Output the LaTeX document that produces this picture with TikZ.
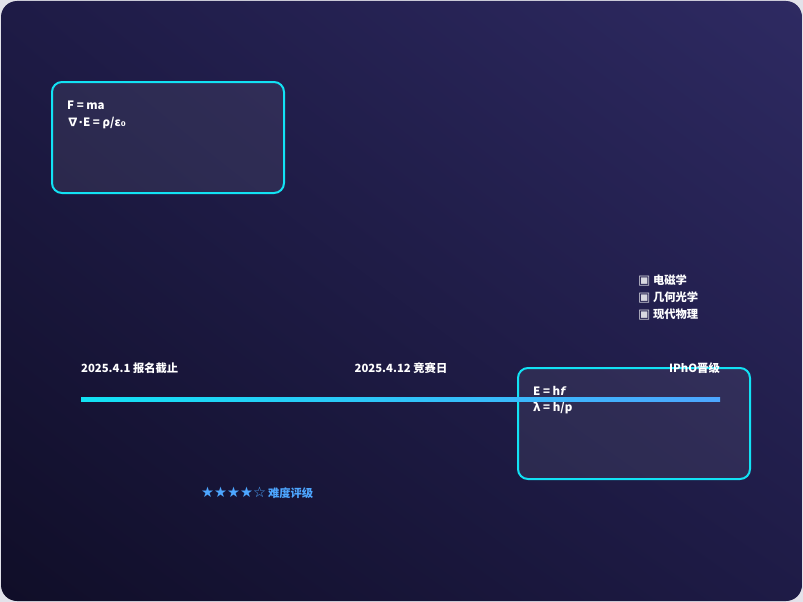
\documentclass[tikz,border=0pt]{standalone}
\usepackage{fontspec}
\setmainfont{Noto Sans CJK SC}
\newfontfamily\symfont{DejaVu Sans}
\usetikzlibrary{positioning,shadings}
\definecolor{bgdark}{HTML}{100E28}
\definecolor{bgmid}{HTML}{1E1B46}
\definecolor{bglight}{HTML}{2E2A62}
\definecolor{neon}{HTML}{12E2F4}
\definecolor{sky}{HTML}{4DA6FF}
\definecolor{rahmen}{HTML}{E2E2EA}
\definecolor{kasten}{HTML}{D8D8E0}
\tikzset{
%Define style for formula boxes
    tafel/.style={
           rectangle,
           rounded corners=10pt,
           draw=neon, line width=2pt,
           fill=white, fill opacity=0.07, text opacity=1,
           minimum width=232pt,
           minimum height=111pt},
%Define style for formulas
    formel/.style={
           text=white,
           font=\bfseries\fontsize{11.5}{16.5}\selectfont,
           align=left,
           inner sep=0pt},
%Define style for labels
    marke/.style={
           text=white,
           font=\bfseries\fontsize{11.3}{14}\selectfont,
           inner sep=0pt},
    thema/.style={
           marke,
           anchor=west}
}
\newcommand{\haken}{{\symfont\fontsize{13}{14}\selectfont\color{kasten}▣}}
\begin{document}
\begin{tikzpicture}[x=1pt, y=-1pt]
 \useasboundingbox (0,0) rectangle (803,602);
 \fill[rahmen] (0,0) rectangle (803,602);
 \shade[rounded corners=16pt, upper right=bglight, lower left=bgdark, upper left=bgmid, lower right=bgmid] (1,1) rectangle (802,601);
 % formula boxes
 \node[tafel] (mechanik) at (168,137.5) {};
 \node[tafel] (quanten) at (634,423.5) {};
 \node[formel, anchor=north west] (klassisch) at ([xshift=16pt,yshift=-20pt]mechanik.north west) {F = ma\\∇{\symfont ·}E = ρ/ε{\symfont ₀}};
 \node[formel, anchor=north west] (modern) at ([xshift=16pt,yshift=-19pt]quanten.north west) {E = h{\symfont\itshape f}\\λ = h/p};
 % timeline
 \coordinate (anfang) at (81,399);
 \coordinate (ende) at (720,399);
 \shade[left color=neon, right color=sky] ([yshift=2pt]anfang) rectangle ([yshift=-2pt]ende);
 \node[marke, anchor=west] (meldung) at (81,368) {2025.4.1 报名截止};
 \node[marke] (wettkampf) at (401,368) {2025.4.12 竞赛日};
 \node[marke, anchor=east] (ipho) at (720,368) {IPhO晋级};
 % topics
 \node[thema] (em) at (638,280) {\haken\ 电磁学};
 \node[thema] (optik) at (638,297) {\haken\ 几何光学};
 \node[thema] (physik) at (638,314) {\haken\ 现代物理};
 % rating
 \node[marke, text=sky, anchor=west] (wertung) at (201,493) {{\symfont\fontsize{14.5}{15}\selectfont ★★★★☆}\,难度评级};
\end{tikzpicture}
\end{document}
